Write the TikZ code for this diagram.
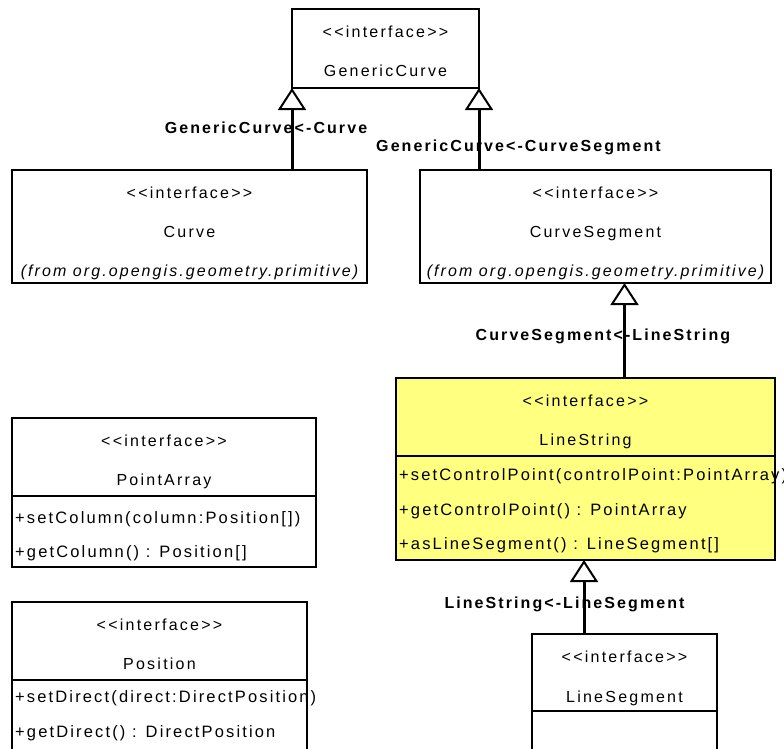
\documentclass[tikz,border=0pt]{standalone}
\usepackage{fontspec}
\setmainfont{Liberation Sans}[Ligatures=TeXOff, LetterSpace=12]
\newfontfamily\namefont{Liberation Sans}[Ligatures=TeXOff, LetterSpace=14]
\newfontfamily\memberfont{Liberation Sans}[Ligatures=TeXOff, LetterSpace=13]
\usetikzlibrary{arrows.meta}
\definecolor{classyellow}{RGB}{255,255,128}

\begin{document}
\begin{tikzpicture}[x=1pt, y=-1pt,
  box/.style={draw, line width=2.4pt, inner sep=0pt, outer sep=0pt, anchor=north west},
  txt/.style={font=\namefont\fontsize{16}{19}\selectfont, inner sep=0pt, anchor=base},
  pkg/.style={txt, font=\memberfont\fontsize{16}{19}\selectfont\itshape},
  meth/.style={txt, anchor=base west, font=\memberfont\fontsize{16.5}{19}\selectfont},
  lbl/.style={txt, font=\memberfont\fontsize{16}{19}\selectfont\bfseries},
  sep/.style={line width=2.4pt},
  gen/.style={line width=3pt, -{Triangle[open, length=22pt, width=28pt, line width=2pt]}}
]
\useasboundingbox (0,0) rectangle (784,748);
\clip (0,0) rectangle (784,748);
\fill[white] (0,0) rectangle (784,748);

% class boxes
\node[box, minimum width=187pt, minimum height=79pt]  (gc)    at (292,9)   {};
\node[box, minimum width=355pt, minimum height=113pt] (curve) at (12,170)  {};
\node[box, minimum width=351pt, minimum height=113pt] (cseg)  at (420,170) {};
\node[box, fill=classyellow, minimum width=379pt, minimum height=182pt] (ls) at (396,378) {};
\node[box, minimum width=304pt, minimum height=149pt] (pa)    at (12,418)  {};
\node[box, minimum width=295pt, minimum height=170pt] (pos)   at (12,602)  {};
\node[box, minimum width=185pt, minimum height=140pt] (lseg)  at (532,634) {};

% compartment separators
\draw[sep] (ls.west |- 0,456)   -- (ls.east |- 0,456);
\draw[sep] (pa.west |- 0,496)   -- (pa.east |- 0,496);
\draw[sep] (pos.west |- 0,680)  -- (pos.east |- 0,680);
\draw[sep] (lseg.west |- 0,711) -- (lseg.east |- 0,711);

% GenericCurve
\node[txt] (gc-st) at (385.5,37.5) {<<interface>>};
\node[txt] (gc-nm) at (385.5,76.5) {GenericCurve};

% Curve
\node[txt] (cv-st) at (189.5,198) {<<interface>>};
\node[txt] (cv-nm) at (189.5,237) {Curve};
\node[pkg] (cv-pk) at (189.5,276) {(from org.opengis.geometry.primitive)};

% CurveSegment
\node[txt] (cs-st) at (595.5,198) {<<interface>>};
\node[txt] (cs-nm) at (595.5,237) {CurveSegment};
\node[pkg] (cs-pk) at (595.5,276) {(from org.opengis.geometry.primitive)};

% LineString
\node[txt]  (ls-st) at (585.5,406) {<<interface>>};
\node[txt]  (ls-nm) at (585.5,445) {LineString};
\node[meth] (ls-m1) at (399,480) {+setControlPoint(controlPoint:PointArray)};
\node[meth] (ls-m2) at (399,515) {+getControlPoint() : PointArray};
\node[meth] (ls-m3) at (399,549) {+asLineSegment() : LineSegment[]};

% PointArray
\node[txt]  (pa-st) at (164,446) {<<interface>>};
\node[txt]  (pa-nm) at (164,485) {PointArray};
\node[meth] (pa-m1) at (15,523) {+setColumn(column:Position[])};
\node[meth] (pa-m2) at (15,557) {+getColumn() : Position[]};

% Position
\node[txt]  (pos-st) at (159.5,630) {<<interface>>};
\node[txt]  (pos-nm) at (159.5,669) {Position};
\node[meth] (pos-m1) at (15,702) {+setDirect(direct:DirectPosition)};
\node[meth] (pos-m2) at (15,737) {+getDirect() : DirectPosition};

% LineSegment
\node[txt] (lseg-st) at (624.5,662) {<<interface>>};
\node[txt] (lseg-nm) at (624.5,702) {LineSegment};

% generalization labels
\node[lbl] (l1) at (266,133)   {GenericCurve<-Curve};
\node[lbl] (l2) at (518.5,151) {GenericCurve<-CurveSegment};
\node[lbl] (l3) at (603,340)   {CurveSegment<-LineString};
\node[lbl] (l4) at (564.5,608) {LineString<-LineSegment};

% generalization connectors
\coordinate (cs-foot) at (624.5,283);
\coordinate (ls-foot) at (584,560);
\draw[gen] (gc.south west |- curve.north) -- (gc.south west);
\draw[gen] (gc.south east |- cseg.north)  -- (gc.south east);
\draw[gen] (cs-foot |- ls.north)          -- (cs-foot);
\draw[gen] (ls-foot |- lseg.north)        -- (ls-foot);
\end{tikzpicture}
\end{document}
